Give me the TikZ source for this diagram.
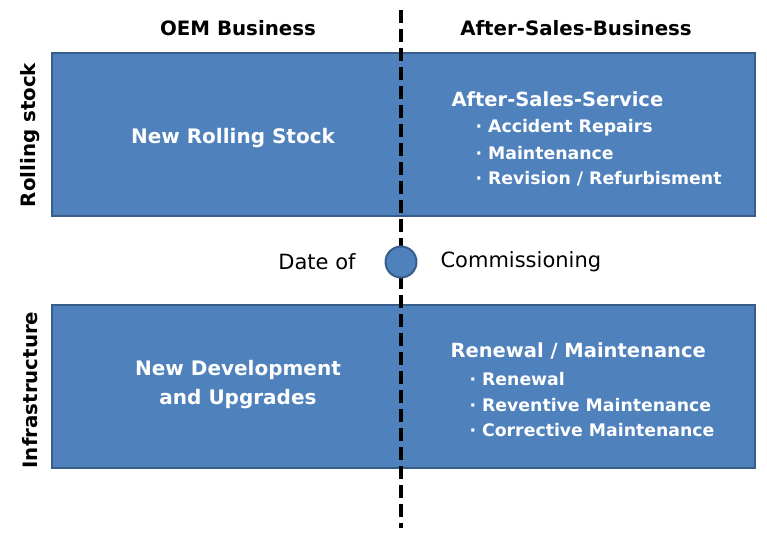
\documentclass[tikz,border=0pt]{standalone}
\usepackage{fontspec}
\setmainfont{DejaVu Sans}
\usepackage{xcolor}
\definecolor{boxfill}{HTML}{4F81BD}
\definecolor{boxline}{HTML}{385D8A}
\tikzset{
    blue-box/.style = {draw=boxline, fill=boxfill, line width=2.5pt, rectangle, minimum width=703pt, minimum height=163pt, inner sep=0pt},
    head-label/.style = {font=\fontsize{19.8}{22}\selectfont\bfseries, text=black},
    side-label/.style = {font=\fontsize{19.8}{22}\selectfont\bfseries, text=black, rotate=90},
    box-title/.style = {font=\fontsize{19.5}{24}\selectfont\bfseries, text=white, anchor=west},
    box-item/.style = {font=\fontsize{17.3}{22}\selectfont\bfseries, text=white, anchor=west},
    box-main/.style = {font=\fontsize{20}{29}\selectfont\bfseries, text=white, align=center},
    plain-label/.style = {font=\fontsize{21}{24}\selectfont, text=black},
}

\begin{document}
\begin{tikzpicture}[x=1pt, y=-1pt]
\useasboundingbox (0,0) rectangle (767,540);
% boxes
\node [blue-box] (rolling-box) at (403.5,134.5) {};
\node [blue-box] (infra-box) at (403.5,386.5) {};
% dashed border line and commissioning point
\coordinate (line-top) at (401,10);
\coordinate (line-bottom) at (401,528);
\draw [black, line width=3.5pt, dash pattern=on 13pt off 6pt] (line-top) -- (line-bottom);
\node [circle, draw=boxline, fill=boxfill, line width=2pt, minimum size=31pt] (commission) at (401,262) {};
\node [plain-label] (date-of) at (317,262) {Date of};
\node [plain-label, anchor=west] (commissioning) at (437,262) {Commissioning};
% headings
\node [head-label] (oem) at (238,28) {OEM Business};
\node [head-label] (aftersales) at (576,28) {After-Sales-Business};
\node [side-label] (rolling) at (30,135) {Rolling stock};
\node [side-label] (infra) at (30,390) {Infrastructure};
% rolling stock
\node [box-main] (new-rolling) at (233,138) {New Rolling Stock};
\node [box-title] (service) at (448,99) {After-Sales-Service};
\node [box-item] (repairs) at (472,128) {· Accident Repairs};
\node [box-item] (maint) at (472,153) {· Maintenance};
\node [box-item] (revision) at (472,179) {· Revision / Refurbisment};
% infrastructure
\node [box-main] (new-dev) at (238,385) {New Development\\and Upgrades};
\node [box-title] (renewal-title) at (447,351) {Renewal / Maintenance};
\node [box-item] (renewal) at (466,379) {· Renewal};
\node [box-item] (preventive) at (466,405) {· Reventive Maintenance};
\node [box-item] (corrective) at (466,430) {· Corrective Maintenance};
\end{tikzpicture}
\end{document}
